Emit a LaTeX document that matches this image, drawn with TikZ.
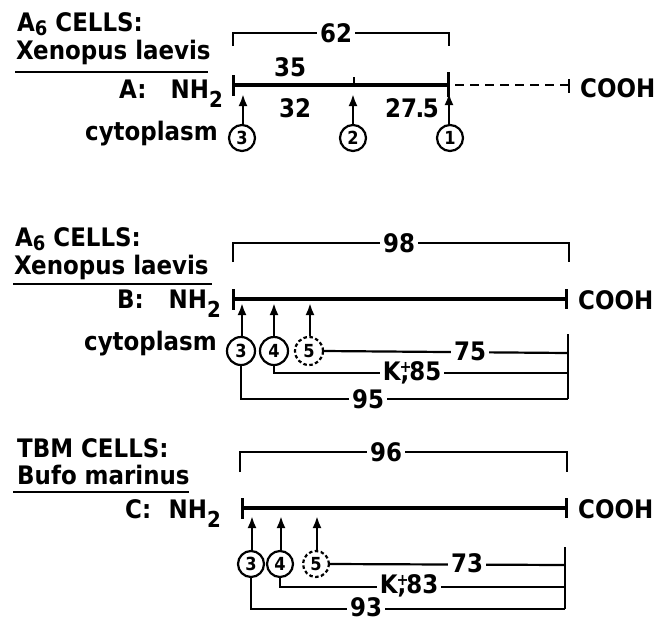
\documentclass[tikz,border=0pt]{standalone}
\usepackage{fontspec}
\setmainfont{DejaVu Sans Condensed}
\usetikzlibrary{arrows.meta}
\newcommand{\subtwo}{\raisebox{-9pt}{\fontsize{22}{22}\selectfont 2}}
\newcommand{\lowsix}{\raisebox{-4pt}{\fontsize{20}{20}\selectfont 6}}
\newcommand{\kplus}{K\makebox[0pt][l]{\kern-1pt\raisebox{8pt}{\fontsize{16}{16}\selectfont +}},}
\begin{document}
\begin{tikzpicture}[x=1pt,y=-1pt,
  txt/.style={inner sep=0pt,font=\fontsize{25.5}{28}\selectfont\bfseries},
  mainline/.style={line width=3.3pt},
  tickline/.style={line width=3pt},
  thintick/.style={line width=1.8pt},
  brk/.style={line width=2pt},
  uline/.style={line width=2.2pt},
  lead/.style={line width=2.2pt},
  lbl/.style={fill=white,inner xsep=3pt,inner ysep=1pt,font=\fontsize{25.5}{28}\selectfont\bfseries},
  site/.style={circle,draw,line width=2.2pt,minimum size=26pt,inner sep=0pt,font=\fontsize{18}{18}\selectfont\bfseries},
  dsite/.style={site,dash pattern=on 3.5pt off 2.5pt},
  arr/.style={line width=2.6pt,-{Latex[length=12pt,width=9pt]}},
]
\useasboundingbox (0,0) rectangle (667,622);
\fill[white] (0,0) rectangle (667,622);

% ================= A =================
\node[txt,anchor=base west] (tA) at (17,31) {A\lowsix{} CELLS:};
\node[txt,anchor=base west] (sA) at (16,59) {Xenopus laevis};
\coordinate (uA1) at (15,72); \coordinate (uA2) at (208,72);
\draw[uline] (uA1) -- (uA2);
\node[txt,anchor=base west] (labA) at (119,98) {A:};
\node[txt,anchor=base east] (nA) at (223,98) {NH\subtwo};
\node[txt,anchor=base west] (cA) at (580,97) {COOH};
\node[txt,anchor=base east] (cyA) at (218,140) {cytoplasm};

\coordinate (A0) at (233,85); \coordinate (A1) at (448,85); \coordinate (A2) at (569,85);
\draw[mainline] (A0) -- (A1);
\draw[line width=2.2pt,dash pattern=on 9pt off 6pt] ([xshift=7pt]A1) -- (A2);
\draw[tickline] (233,75) -- (233,96);
\draw[tickline] (448,72) -- (448,97);
\draw[thintick] (354,77) -- (354,85);
\draw[line width=2.2pt] (569,79) -- (569,93);

\coordinate (bA1) at (233,46); \coordinate (bA2) at (449,46);
\draw[brk] (bA1) -- (233,33) -- (449,33) -- (bA2);
\node[lbl] (l62) at (336,33) {62};
\node[txt] (l35) at (290,67) {35};
\node[txt] (l32) at (295,108) {32};
\node[txt] (l275) at (412,108) {27\kern-1.5pt.\kern-1.5pt5};

\node[site] (cA3) at (242,138) {3};
\node[site] (cA2) at (353,138) {2};
\node[site] (cA1) at (450,138) {1};
\coordinate (pA3) at (243,94); \coordinate (pA2) at (353,94); \coordinate (pA1) at (449,93);
\draw[arr] (cA3.north -| pA3) -- (pA3);
\draw[arr] (cA2.north -| pA2) -- (pA2);
\draw[arr] (cA1.north -| pA1) -- (pA1);

% ================= B =================
\node[txt,anchor=base west] (tB) at (15,246) {A\lowsix{} CELLS:};
\node[txt,anchor=base west] (sB) at (14,274) {Xenopus laevis};
\coordinate (uB1) at (13,284); \coordinate (uB2) at (212,284);
\draw[uline] (uB1) -- (uB2);
\node[txt,anchor=base west] (labB) at (117,308) {B:};
\node[txt,anchor=base east] (nB) at (221,308) {NH\subtwo};
\node[txt,anchor=base west] (cB) at (578,309) {COOH};
\node[txt,anchor=base east] (cyB) at (217,350) {cytoplasm};

\coordinate (B0) at (233,299); \coordinate (B1) at (566,299);
\draw[mainline] (B0) -- (B1);
\draw[tickline] (233,289) -- (233,310);
\draw[tickline] (566,289) -- (566,309);

\coordinate (bB1) at (233,262); \coordinate (bB2) at (569,262);
\draw[brk] (bB1) -- (233,243) -- (569,243) -- (bB2);
\node[lbl] (l98) at (399,243) {98};

\node[site,minimum size=28pt] (cB3) at (241,351) {3};
\node[site,minimum size=28pt] (cB4) at (274,351) {4};
\node[dsite,minimum size=28pt] (cB5) at (309,351) {5};
\coordinate (pB3) at (242,303); \coordinate (pB4) at (274,303); \coordinate (pB5) at (310,303);
\draw[arr] (cB3.north -| pB3) -- (pB3);
\draw[arr] (cB4.north -| pB4) -- (pB4);
\draw[arr] (cB5.north -| pB5) -- (pB5);

\coordinate (eB75) at (568,353); \coordinate (eB85) at (568,373); \coordinate (eB95) at (568,399);
\coordinate (eBtop) at (568,334);
\draw[lead] (cB5.east) -- (eB75);
\draw[lead] (cB4.south) |- (eB85);
\draw[lead] (cB3.south) |- (eB95);
\draw[lead] (eBtop) -- (eB95);
\node[lbl] (l75) at (470,351) {75};
\node[lbl] (l85) at (412,373) {\kplus85};
\node[lbl] (l95) at (368,399) {95};

% ================= C =================
\node[txt,anchor=base west] (tC) at (17,457) {TBM CELLS:};
\node[txt,anchor=base west] (sC) at (17,484) {Bufo marinus};
\coordinate (uC1) at (13,492); \coordinate (uC2) at (189,492);
\draw[uline] (uC1) -- (uC2);
\node[txt,anchor=base west] (labC) at (125,518) {C:};
\node[txt,anchor=base east] (nC) at (221,518) {NH\subtwo};
\node[txt,anchor=base west] (cC) at (578,518) {COOH};

\coordinate (C0) at (242,508); \coordinate (C1) at (566,508);
\draw[mainline] (C0) -- (C1);
\draw[tickline] (242,498) -- (242,519);
\draw[tickline] (566,498) -- (566,518);

\coordinate (bC1) at (240,472); \coordinate (bC2) at (567,472);
\draw[brk] (bC1) -- (240,452) -- (567,452) -- (bC2);
\node[lbl] (l96) at (386,452) {96};

\node[site] (cC3) at (251,564) {3};
\node[site] (cC4) at (280,564) {4};
\node[dsite] (cC5) at (316,564) {5};
\coordinate (pC3) at (252,516); \coordinate (pC4) at (281,516); \coordinate (pC5) at (317,516);
\draw[arr] (cC3.north -| pC3) -- (pC3);
\draw[arr] (cC4.north -| pC4) -- (pC4);
\draw[arr] (cC5.north -| pC5) -- (pC5);

\coordinate (eC73) at (565,565); \coordinate (eC83) at (565,587); \coordinate (eC93) at (565,609);
\coordinate (eCtop) at (565,547);
\draw[lead] (cC5.east) -- (eC73);
\draw[lead] (cC4.south) |- (eC83);
\draw[lead] (cC3.south) |- (eC93);
\draw[lead] (eCtop) -- (eC93);
\node[lbl] (l73) at (467,563) {73};
\node[lbl] (l83) at (409,586) {\kplus83};
\node[lbl] (l93) at (366,607) {93};
\end{tikzpicture}
\end{document}
